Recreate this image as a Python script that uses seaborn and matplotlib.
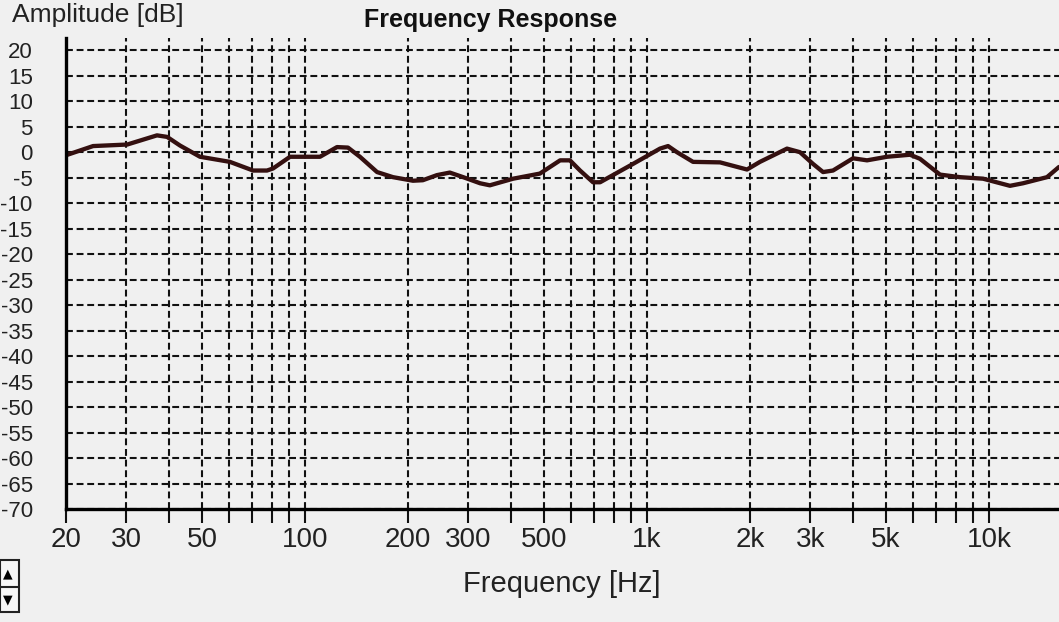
import matplotlib
matplotlib.use("Agg")
import matplotlib.pyplot as plt
from matplotlib.patches import Rectangle
import seaborn as sns
import numpy as np

freq_hz = [20, 24, 30.2, 36.9, 39.5, 43.1, 49.3, 60.3, 70.5, 77.4, 80.6, 90.4,
           110.6, 124, 133.5, 144.7, 162.4, 180.8, 206.8, 221, 243, 265, 290,
           325, 347, 406, 486, 557, 595, 637, 695, 729, 910, 1091, 1152, 1223,
           1363, 1635, 1960, 2139, 2566, 2800, 3057, 3271, 3497, 4002, 4398,
           5031, 5874, 6282, 7188, 8224, 9603, 11514, 12568, 14772, 16016]
amp_db = [-0.6, 1.2, 1.5, 3.3, 3.0, 1.3, -0.9, -1.9, -3.6, -3.6, -3.2, -0.9,
          -0.9, 1.0, 0.9, -0.9, -3.9, -4.9, -5.6, -5.5, -4.5, -4.0, -4.9,
          -6.1, -6.5, -5.2, -4.2, -1.6, -1.6, -3.6, -5.9, -5.9, -2.3, 0.7, 1.2,
          0.0, -1.9, -2.0, -3.4, -1.9, 0.7, 0.0, -2.3, -3.9, -3.6, -1.2, -1.6,
          -0.9, -0.5, -1.3, -4.4, -4.9, -5.2, -6.6, -6.1, -4.9, -2.9]

x_ticks = [20, 30, 40, 50, 60, 70, 80, 90,
           100, 200, 300, 400, 500, 600, 700, 800, 900,
           1000, 2000, 3000, 4000, 5000, 6000, 7000, 8000, 9000, 10000]
x_labels = ["20", "30", "", "50", "", "", "", "",
            "100", "200", "300", "", "500", "", "", "", "",
            "1k", "2k", "3k", "", "5k", "", "", "", "", "10k"]
y_ticks = list(range(-70, 21, 5))

bg = "#f0f0f0"
sns.set_theme(style="white")
plt.rcParams["font.family"] = ["Liberation Sans", "DejaVu Sans"]
plt.rcParams["figure.facecolor"] = bg
plt.rcParams["axes.facecolor"] = bg

fig = plt.figure(figsize=(10.59, 6.22), dpi=100)
ax = fig.add_axes([66 / 1059, 1 - 509 / 622, 1 - 66 / 1059, (509 - 38) / 622])

sns.lineplot(x=freq_hz, y=amp_db, ax=ax, color="#341010", lw=3.1,
             estimator=None, sort=False, zorder=5)

ax.set_xscale("log")
ax.set_xlim(20, 16016)
ax.set_ylim(-70, 22.4)
ax.set_xticks(x_ticks, x_labels)
ax.minorticks_off()
ax.set_yticks(y_ticks, [str(v) for v in y_ticks])

ax.grid(True, color="#111111", lw=1.5, linestyle=(0, (3.3, 1.8)))
for side in ["top", "right"]:
    ax.spines[side].set_visible(False)
for side in ["left", "bottom"]:
    ax.spines[side].set_color("black")
    ax.spines[side].set_linewidth(2.4)
    ax.spines[side].set_zorder(6)

ax.tick_params(axis="x", length=10, width=1.5, color="#111111", pad=3,
               labelsize=20, labelcolor="#222222", direction="out", bottom=True)
ax.tick_params(axis="y", length=0, pad=24, labelsize=16, labelcolor="#222222")

ax.set_xlabel("")
ax.set_ylabel("")

fig.text(491 / 1059, 1 - 20 / 622, "Frequency Response", ha="center", va="center",
         fontsize=18, fontweight="bold", color="#111111")
fig.text(12 / 1059, 1 - 22 / 622, "Amplitude [dB]", ha="left", va="baseline",
         fontsize=19, color="#222222")
fig.text(562 / 1059, 1 - 592 / 622, "Frequency [Hz]", ha="center", va="baseline",
         fontsize=21, color="#222222")

# little spin button in the lower-left corner
fig.add_artist(Rectangle((0, 1 - 612 / 622), 19 / 1059, 52 / 622,
                         transform=fig.transFigure, facecolor="#f7f7f7",
                         edgecolor="#222222", lw=1.5))
fig.add_artist(plt.Line2D([0, 19 / 1059], [1 - 587 / 622, 1 - 587 / 622],
                          transform=fig.transFigure, color="#222222", lw=1.5))
fig.text(8 / 1059, 1 - 574 / 622, "\u25b2", ha="center", va="center",
         fontsize=9, family="DejaVu Sans", color="black")
fig.text(8 / 1059, 1 - 600 / 622, "\u25bc", ha="center", va="center",
         fontsize=9, family="DejaVu Sans", color="black")

fig.savefig("out.png", dpi=100, facecolor=bg)
